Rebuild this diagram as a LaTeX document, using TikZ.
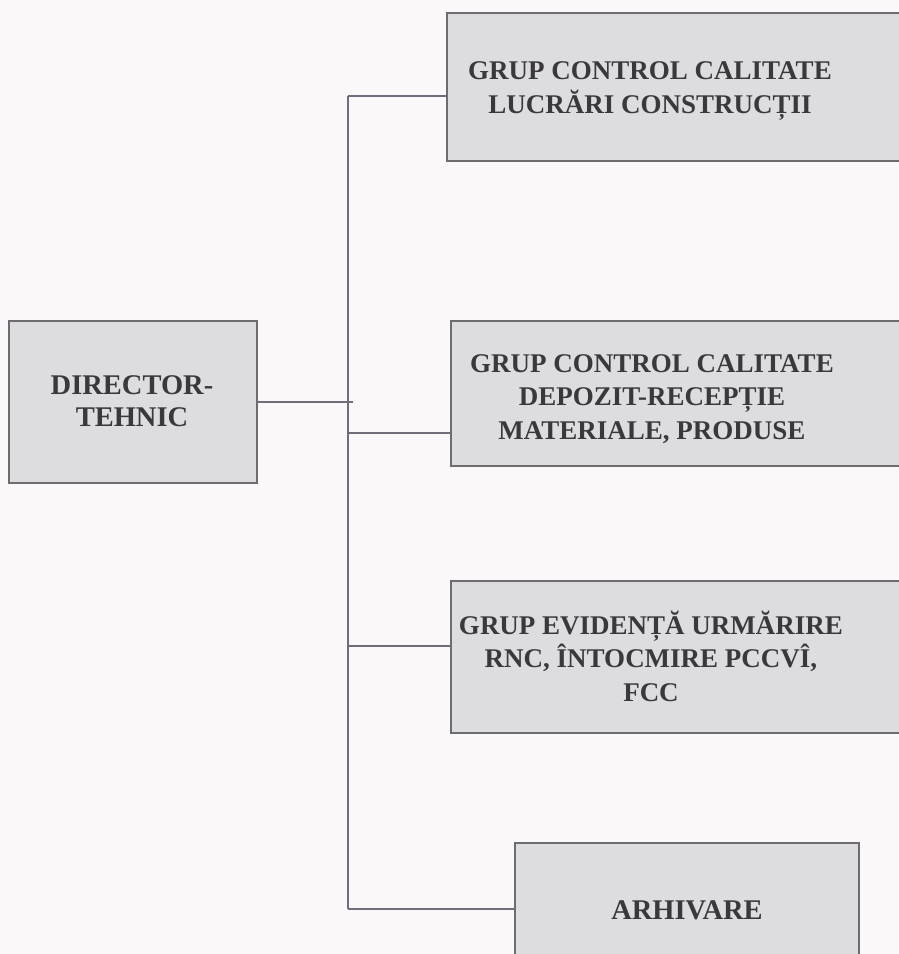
\documentclass[tikz,border=0pt]{standalone}
\usepackage{fontspec}
\setmainfont{Liberation Serif}
\definecolor{bgc}{RGB}{250,248,248}
\definecolor{boxfill}{RGB}{221,220,222}
\definecolor{boxline}{RGB}{110,108,112}
\definecolor{conn}{RGB}{112,108,122}
\definecolor{txtc}{RGB}{58,56,58}
\tikzset{
  orgbox/.style={draw=boxline, fill=boxfill, line width=1.6pt, inner sep=0pt, rectangle},
  orgtxt/.style={text=txtc, font=\fontsize{27}{33.5}\selectfont\bfseries, align=center, inner sep=0pt},
  orgline/.style={draw=conn, line width=1.5pt}
}
\begin{document}
\begin{tikzpicture}[x=1pt,y=-1pt]
\useasboundingbox[fill=bgc] (0,0) rectangle (898,954);
% director
\node[orgbox, minimum width=248pt, minimum height=162pt] (dir) at (133,402) {};
\node[orgtxt, font=\fontsize{28.5}{32.5}\selectfont\bfseries] (dirt) at (132,401) {DIRECTOR-\\TEHNIC};
% boxes
\node[orgbox, minimum width=463pt, minimum height=148pt] (b1) at (678.5,87) {};
\node[orgtxt] (t1) at (650,91) {GRUP CONTROL CALITATE\\LUCRĂRI CONSTRUCȚII};
\node[orgbox, minimum width=459pt, minimum height=145pt] (b2) at (680.5,393.5) {};
\node[orgtxt] (t2) at (652,399) {GRUP CONTROL CALITATE\\DEPOZIT-RECEPȚIE\\MATERIALE, PRODUSE};
\node[orgbox, minimum width=459pt, minimum height=152pt] (b3) at (680.5,657) {};
\node[orgtxt] (t3) at (651,656) {GRUP EVIDENȚĂ URMĂRIRE\\RNC, ÎNTOCMIRE PCCVÎ,\\FCC};
\node[orgbox, minimum width=344pt, minimum height=127pt] (b4) at (687,906.5) {};
\node[orgtxt, font=\fontsize{28.5}{32.5}\selectfont\bfseries] (t4) at (687,910) {ARHIVARE};
% connectors
\coordinate (top) at (348,96);
\coordinate (bot) at (348,909);
\coordinate (jd) at (353,402);
\coordinate (j2) at (348,433);
\coordinate (j3) at (348,646);
\draw[orgline] (top) -- (bot);
\draw[orgline] (dir.east) -- (jd);
\draw[orgline] (top) -- (b1.west |- top);
\draw[orgline] (j2) -- (b2.west |- j2);
\draw[orgline] (j3) -- (b3.west |- j3);
\draw[orgline] (bot) -- (b4.west |- bot);
\end{tikzpicture}
\end{document}
